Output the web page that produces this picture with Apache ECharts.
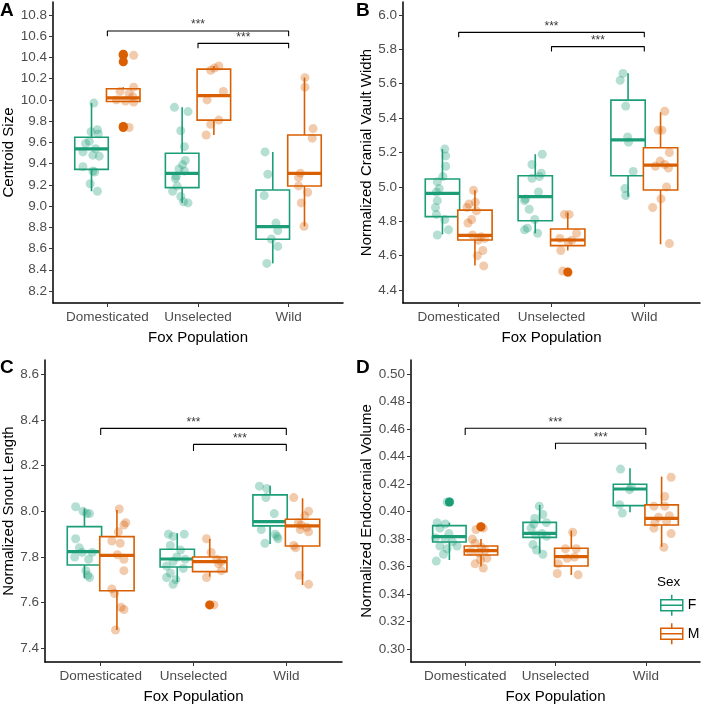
<!DOCTYPE html>
<html>
<head>
<meta charset="utf-8">
<script src="https://cdn.jsdelivr.net/npm/echarts@6/dist/echarts.min.js"></script>
<style>
  html, body { margin: 0; padding: 0; background: #fff; }
  #main { width: 709px; height: 705px; }
</style>
</head>
<body>
<div id="main"></div>
<script>
// categories
var populations = ['Domesticated', 'Unselected', 'Wild'];
var sexes = ['F', 'M'];

// tick labels
var sizeTicks = [8.2, 8.4, 8.6, 8.8, 9.0, 9.2, 9.4, 9.6, 9.8, 10.0, 10.2, 10.4, 10.6, 10.8];
var vaultTicks = [4.4, 4.6, 4.8, 5.0, 5.2, 5.4, 5.6, 5.8, 6.0];
var snoutTicks = [7.4, 7.6, 7.8, 8.0, 8.2, 8.4, 8.6];
var endoTicks = [0.30, 0.32, 0.34, 0.36, 0.38, 0.40, 0.42, 0.44, 0.46, 0.48, 0.50];

// box stats per population: [lower whisker, Q1, median, Q3, upper whisker]
// A - centroid size
var sizeBoxF = [[9.14, 9.346, 9.538, 9.648, 9.97], [9.03, 9.174, 9.309, 9.497, 9.93], [8.46, 8.687, 8.806, 9.152, 9.51]];
var sizeBoxM = [[9.98, 9.985, 10.02, 10.105, 10.12], [9.67, 9.81, 10.04, 10.29, 10.32], [8.81, 9.189, 9.309, 9.67, 10.21]];
var sizeOutF = [[], [], []];
var sizeOutM = [[10.43, 10.42, 10.36, 9.75, 9.74], [], []];
var sizePtsF = [
  [9.97, 9.72, 9.70, 9.68, 9.61, 9.59, 9.54, 9.51, 9.48, 9.47, 9.37, 9.33, 9.32, 9.21, 9.14],
  [9.93, 9.89, 9.71, 9.56, 9.43, 9.39, 9.35, 9.33, 9.28, 9.26, 9.19, 9.14, 9.09, 9.04, 9.03],
  [9.51, 9.30, 9.10, 8.84, 8.77, 8.69, 8.62, 8.46]
];
var sizeJitF = [
  [-0.15, -0.11, -0.18, -0.10, -0.20, -0.24, -0.13, -0.27, -0.16, -0.09, -0.27, -0.16, -0.14, -0.19, -0.11],
  [-0.26, -0.11, -0.19, -0.15, -0.14, -0.17, -0.21, -0.15, -0.24, -0.25, -0.23, -0.28, -0.19, -0.16, -0.11],
  [-0.26, -0.23, -0.27, -0.14, -0.12, -0.19, -0.12, -0.24]
];
var sizePtsM = [
  [10.43, 10.42, 10.36, 10.12, 10.08, 10.06, 10.03, 10.00, 9.99, 9.98, 9.75, 9.74],
  [10.32, 10.30, 10.28, 10.08, 10.00, 9.81, 9.77, 9.67],
  [10.21, 10.12, 9.73, 9.64, 9.31, 9.27, 9.19, 9.13, 9.03, 8.81]
];
var sizeJitM = [
  [0.18, 0.29, 0.18, 0.29, 0.14, 0.24, 0.28, 0.10, 0.20, 0.29, 0.18, 0.24],
  [0.23, 0.18, 0.14, 0.28, 0.10, 0.23, 0.14, 0.09],
  [0.18, 0.18, 0.27, 0.26, 0.13, 0.11, 0.11, 0.21, 0.14, 0.17]
];
// [from, to, bar height, tip height]
var sizeBrackets = [[0, 2, 10.65, 10.60], [1, 2, 10.533, 10.486]];

// B - cranial vault width
var vaultBoxF = [[4.724, 4.827, 4.962, 5.046, 5.22], [4.73, 4.803, 4.943, 5.065, 5.19], [4.943, 5.065, 5.273, 5.505, 5.661]];
var vaultBoxM = [[4.542, 4.691, 4.718, 4.865, 4.98], [4.63, 4.658, 4.691, 4.755, 4.85], [4.666, 4.982, 5.127, 5.228, 5.434]];
var vaultOutF = [[], [], []];
var vaultOutM = [[], [4.505], []];
var vaultPtsF = [
  [5.22, 5.18, 5.12, 5.06, 5.03, 4.99, 4.97, 4.92, 4.88, 4.84, 4.81, 4.75, 4.72],
  [5.19, 5.13, 5.08, 5.06, 5.05, 4.97, 4.93, 4.92, 4.87, 4.81, 4.76, 4.75, 4.73],
  [5.66, 5.62, 5.47, 5.29, 5.26, 5.09, 4.99, 4.95]
];
var vaultJitF = [
  [-0.15, -0.14, -0.14, -0.17, -0.23, -0.21, -0.24, -0.23, -0.25, -0.24, -0.15, -0.11, -0.23],
  [-0.10, -0.21, -0.11, -0.13, -0.21, -0.14, -0.28, -0.29, -0.24, -0.18, -0.26, -0.29, -0.15],
  [-0.23, -0.26, -0.20, -0.18, -0.17, -0.12, -0.21, -0.20]
];
var vaultPtsM = [
  [4.98, 4.91, 4.90, 4.88, 4.86, 4.81, 4.79, 4.72, 4.71, 4.70, 4.69, 4.63, 4.60, 4.54],
  [4.84, 4.84, 4.73, 4.70, 4.69, 4.68, 4.63, 4.51, 4.50],
  [5.44, 5.33, 5.33, 5.20, 5.15, 5.13, 5.12, 5.11, 5.00, 4.93, 4.88, 4.67]
];
var vaultJitM = [
  [0.16, 0.18, 0.11, 0.09, 0.19, 0.14, 0.10, 0.15, 0.24, 0.28, 0.21, 0.26, 0.20, 0.27],
  [0.14, 0.19, 0.27, 0.09, 0.22, 0.18, 0.10, 0.12, 0.18],
  [0.22, 0.19, 0.15, 0.27, 0.17, 0.22, 0.12, 0.26, 0.24, 0.18, 0.09, 0.27]
];
var vaultBrackets = [[0, 2, 5.899, 5.87], [1, 2, 5.816, 5.787]];

// C - snout length
var snoutBoxF = [[7.707, 7.765, 7.823, 7.933, 8.013], [7.69, 7.756, 7.791, 7.834, 7.904], [7.857, 7.936, 7.955, 8.072, 8.112]];
var snoutBoxM = [[7.48, 7.652, 7.807, 7.889, 8.006], [7.714, 7.736, 7.78, 7.80, 7.879], [7.677, 7.848, 7.936, 7.965, 8.057]];
var snoutOutF = [[], [], []];
var snoutOutM = [[], [7.59], []];
var snoutPtsF = [
  [8.02, 8.00, 7.99, 7.99, 7.88, 7.84, 7.82, 7.82, 7.80, 7.79, 7.74, 7.72, 7.71],
  [7.90, 7.90, 7.89, 7.85, 7.83, 7.80, 7.79, 7.78, 7.76, 7.75, 7.73, 7.71, 7.70, 7.68],
  [8.11, 8.10, 8.06, 7.99, 7.92, 7.90, 7.89, 7.88, 7.86]
];
var snoutJitF = [
  [-0.27, -0.19, -0.15, -0.12, -0.27, -0.23, -0.09, -0.20, -0.28, -0.13, -0.16, -0.14, -0.12],
  [-0.27, -0.10, -0.22, -0.25, -0.14, -0.18, -0.09, -0.22, -0.29, -0.11, -0.25, -0.29, -0.19, -0.22],
  [-0.29, -0.21, -0.22, -0.13, -0.27, -0.12, -0.10, -0.09, -0.23]
];
var snoutPtsM = [
  [8.01, 7.95, 7.94, 7.91, 7.87, 7.86, 7.81, 7.79, 7.74, 7.66, 7.64, 7.58, 7.57, 7.48],
  [7.88, 7.82, 7.79, 7.78, 7.77, 7.74, 7.71, 7.59, 7.59],
  [8.06, 8.00, 7.98, 7.95, 7.94, 7.93, 7.92, 7.91, 7.85, 7.84, 7.72, 7.68]
];
var snoutJitM = [
  [0.20, 0.27, 0.25, 0.19, 0.12, 0.21, 0.18, 0.25, 0.25, 0.12, 0.15, 0.22, 0.25, 0.16],
  [0.14, 0.19, 0.25, 0.30, 0.27, 0.30, 0.14, 0.17, 0.22],
  [0.08, 0.24, 0.20, 0.13, 0.16, 0.22, 0.15, 0.24, 0.08, 0.10, 0.14, 0.24]
];
var snoutBrackets = [[0, 2, 8.363, 8.334], [1, 2, 8.293, 8.264]];

// D - endocranial volume
var endoBoxF = [[0.3648, 0.3779, 0.3818, 0.3898, 0.392], [0.3697, 0.3813, 0.3842, 0.3922, 0.4049], [0.3995, 0.4044, 0.4165, 0.4199, 0.4316]];
var endoBoxM = [[0.360, 0.3684, 0.3716, 0.375, 0.380], [0.3539, 0.3604, 0.3672, 0.3733, 0.3862], [0.3745, 0.3903, 0.3951, 0.4049, 0.4255]];
var endoOutF = [[0.407], [], []];
var endoOutM = [[0.389], [], []];
var endoPtsF = [
  [0.407, 0.407, 0.392, 0.391, 0.388, 0.384, 0.381, 0.380, 0.378, 0.375, 0.375, 0.373, 0.369, 0.364],
  [0.404, 0.398, 0.395, 0.392, 0.391, 0.388, 0.384, 0.383, 0.382, 0.376, 0.372, 0.369],
  [0.431, 0.418, 0.416, 0.405, 0.399]
];
var endoJitF = [
  [-0.17, -0.20, -0.31, -0.22, -0.28, -0.18, -0.33, -0.22, -0.14, -0.28, -0.09, -0.20, -0.24, -0.32],
  [-0.18, -0.14, -0.23, -0.10, -0.24, -0.27, -0.15, -0.22, -0.10, -0.25, -0.21, -0.14],
  [-0.28, -0.16, -0.18, -0.29, -0.26]
];
var endoPtsM = [
  [0.389, 0.388, 0.387, 0.380, 0.377, 0.374, 0.372, 0.371, 0.370, 0.366, 0.365, 0.362, 0.359],
  [0.385, 0.373, 0.373, 0.367, 0.366, 0.362, 0.355, 0.354],
  [0.425, 0.411, 0.404, 0.404, 0.397, 0.396, 0.393, 0.392, 0.388, 0.384, 0.374]
];
var endoJitM = [
  [0.17, 0.20, 0.12, 0.08, 0.11, 0.18, 0.22, 0.06, 0.15, 0.24, 0.17, 0.11, 0.20],
  [0.19, 0.11, 0.23, 0.21, 0.13, 0.03, 0.02, 0.25],
  [0.28, 0.21, 0.09, 0.21, 0.26, 0.14, 0.23, 0.10, 0.09, 0.28, 0.20]
];
var endoBrackets = [[0, 2, 0.4607, 0.4558], [1, 2, 0.4498, 0.4454]];

var GREEN = '#1b9e77';
var ORANGE = '#d95f02';
var DODGE = 0.175;
var BOX_W = 0.37;
var FONT = '"Liberation Sans", Arial, sans-serif';

var panels = [
  { letter: 'A', title: 'Centroid Size', ticks: sizeTicks, dec: 1, min: 8.087, max: 10.9225, nameGap: 28.5,
    grid: { left: 53, top: 2, width: 290, height: 301 },
    boxF: sizeBoxF, boxM: sizeBoxM, outF: sizeOutF, outM: sizeOutM,
    ptsF: sizePtsF, ptsM: sizePtsM, jitF: sizeJitF, jitM: sizeJitM, brackets: sizeBrackets },
  { letter: 'B', title: 'Normalized Cranial Vault Width', ticks: vaultTicks, dec: 1, min: 4.3244, max: 6.0756, nameGap: 24,
    grid: { left: 403, top: 2, width: 297, height: 301 },
    boxF: vaultBoxF, boxM: vaultBoxM, outF: vaultOutF, outM: vaultOutM,
    ptsF: vaultPtsF, ptsM: vaultPtsM, jitF: vaultJitF, jitM: vaultJitM, brackets: vaultBrackets },
  { letter: 'C', title: 'Normalized Snout Length', ticks: snoutTicks, dec: 1, min: 7.34, max: 8.6626, nameGap: 24,
    grid: { left: 45, top: 360, width: 297, height: 302 },
    boxF: snoutBoxF, boxM: snoutBoxM, outF: snoutOutF, outM: snoutOutM,
    ptsF: snoutPtsF, ptsM: snoutPtsM, jitF: snoutJitF, jitM: snoutJitM, brackets: snoutBrackets },
  { letter: 'D', title: 'Normalized Endocranial Volume', ticks: endoTicks, dec: 2, min: 0.29054, max: 0.5104, nameGap: 32,
    grid: { left: 411, top: 360, width: 289, height: 302 },
    boxF: endoBoxF, boxM: endoBoxM, outF: endoOutF, outM: endoOutM,
    ptsF: endoPtsF, ptsM: endoPtsM, jitF: endoJitF, jitM: endoJitM, brackets: endoBrackets }
];

function renderBox(params, api) {
  var x = api.value(0);
  var lo = api.coord([x, api.value(1)]);
  var q1 = api.coord([x, api.value(2)]);
  var md = api.coord([x, api.value(3)]);
  var q3 = api.coord([x, api.value(4)]);
  var hi = api.coord([x, api.value(5)]);
  var half = api.size([BOX_W, 0])[0] / 2;
  var color = api.visual('color');
  var cx = lo[0];
  var lineStyle = { stroke: color, lineWidth: 1.6 };
  return {
    type: 'group',
    children: [
      { type: 'line', shape: { x1: cx, y1: hi[1], x2: cx, y2: q3[1] }, style: lineStyle },
      { type: 'line', shape: { x1: cx, y1: q1[1], x2: cx, y2: lo[1] }, style: lineStyle },
      { type: 'rect', shape: { x: cx - half, y: q3[1], width: half * 2, height: q1[1] - q3[1] },
        style: { fill: '#fff', stroke: color, lineWidth: 1.6 } },
      { type: 'line', shape: { x1: cx - half, y1: md[1], x2: cx + half, y2: md[1] },
        style: { stroke: color, lineWidth: 3.2 } }
    ]
  };
}

var grids = [], xAxes = [], yAxes = [], titles = [];
var boxSeries = [], pointSeries = [], extraSeries = [];

panels.forEach(function (p, k) {
  grids.push(p.grid);
  xAxes.push({
    gridIndex: k, type: 'value', min: -0.6, max: 2.6,
    axisLine: { show: true, onZero: false, lineStyle: { color: '#000', width: 1.5 } },
    axisTick: { show: true, length: 4, customValues: [0, 1, 2], lineStyle: { color: '#333' } },
    axisLabel: { customValues: [0, 1, 2], color: '#4d4d4d', fontSize: 13.5, margin: 7, fontFamily: FONT,
      formatter: function (v) { return populations[Math.round(v)]; } },
    splitLine: { show: false },
    name: 'Fox Population', nameLocation: 'middle', nameGap: 27,
    nameTextStyle: { color: '#000', fontSize: 15, fontFamily: FONT }
  });
  yAxes.push({
    gridIndex: k, type: 'value', min: p.min, max: p.max,
    axisLine: { show: true, onZero: false, lineStyle: { color: '#000', width: 1.5 } },
    axisTick: { show: true, length: 4, customValues: p.ticks, lineStyle: { color: '#333' } },
    axisLabel: { customValues: p.ticks, color: '#4d4d4d', fontSize: 13.5, margin: 6, fontFamily: FONT,
      formatter: (function (dec) { return function (v) { return v.toFixed(dec); }; })(p.dec) },
    splitLine: { show: false },
    name: p.title, nameLocation: 'middle', nameGap: p.nameGap,
    nameTextStyle: { color: '#000', fontSize: 15, fontFamily: FONT }
  });
  titles.push({
    text: p.letter, left: p.grid.left < 200 ? 0 : 356, top: p.grid.top < 100 ? 1 : 358, padding: 0,
    textStyle: { fontSize: 19, fontWeight: 'bold', color: '#000', fontFamily: FONT }
  });

  [['F', GREEN, p.boxF, p.outF, p.ptsF, p.jitF, -1], ['M', ORANGE, p.boxM, p.outM, p.ptsM, p.jitM, 1]]
    .forEach(function (s) {
      var name = s[0], color = s[1], side = s[6];
      boxSeries.push({
        name: name, type: 'custom', xAxisIndex: k, yAxisIndex: k, z: 2, silent: true,
        itemStyle: { color: color },
        renderItem: renderBox,
        encode: { x: 0, y: [1, 2, 3, 4, 5] },
        data: s[2].map(function (b, i) { return [i + side * DODGE].concat(b); })
      });
      var outData = [];
      s[3].forEach(function (vals, i) {
        vals.forEach(function (v) { outData.push([i + side * DODGE, v]); });
      });
      extraSeries.push({
        name: name, type: 'scatter', xAxisIndex: k, yAxisIndex: k, z: 4, silent: true,
        symbolSize: 9, itemStyle: { color: color, opacity: 1 }, data: outData
      });
      var ptData = [];
      s[4].forEach(function (vals, i) {
        vals.forEach(function (v, j) { ptData.push([i + s[5][i][j], v]); });
      });
      pointSeries.push({
        name: name, type: 'scatter', xAxisIndex: k, yAxisIndex: k, z: 3, silent: true,
        symbolSize: 9, itemStyle: { color: color, opacity: 0.33 }, data: ptData
      });
    });

  p.brackets.forEach(function (b) {
    extraSeries.push({
      type: 'line', xAxisIndex: k, yAxisIndex: k, z: 5, silent: true, symbol: 'none',
      lineStyle: { color: '#000', width: 1.1 },
      data: [[b[0], b[3]], [b[0], b[2]], [b[1], b[2]], [b[1], b[3]]]
    });
    extraSeries.push({
      type: 'scatter', xAxisIndex: k, yAxisIndex: k, z: 5, silent: true, symbolSize: 0,
      data: [[(b[0] + b[1]) / 2, b[2]]],
      label: { show: true, position: 'top', distance: 0, formatter: '***', color: '#000', fontSize: 12, fontFamily: FONT }
    });
  });
});

titles.push({
  text: 'Sex', left: 657, top: 575, padding: 0,
  textStyle: { fontSize: 13.5, fontWeight: 'normal', color: '#000', fontFamily: FONT }
});

var BOX_ICON = 'path://M11,0L11,5M0,5L22,5L22,16L0,16ZM0,10.5L22,10.5M11,16L11,21';

var myChart = echarts.init(document.getElementById('main'));
var option = {
  animation: false,
  backgroundColor: '#fff',
  textStyle: { fontFamily: FONT },
  title: titles,
  legend: {
    orient: 'vertical', left: 660, top: 594, padding: 0,
    itemWidth: 22, itemHeight: 21, itemGap: 6, selectedMode: false,
    textStyle: { fontSize: 14, color: '#000', fontFamily: FONT },
    data: [
      { name: sexes[0], icon: BOX_ICON, itemStyle: { color: '#fff', borderColor: GREEN, borderWidth: 1.5 } },
      { name: sexes[1], icon: BOX_ICON, itemStyle: { color: '#fff', borderColor: ORANGE, borderWidth: 1.5 } }
    ]
  },
  grid: grids,
  xAxis: xAxes,
  yAxis: yAxes,
  series: boxSeries.concat(pointSeries, extraSeries)
};
myChart.setOption(option);
</script>
</body>
</html>
